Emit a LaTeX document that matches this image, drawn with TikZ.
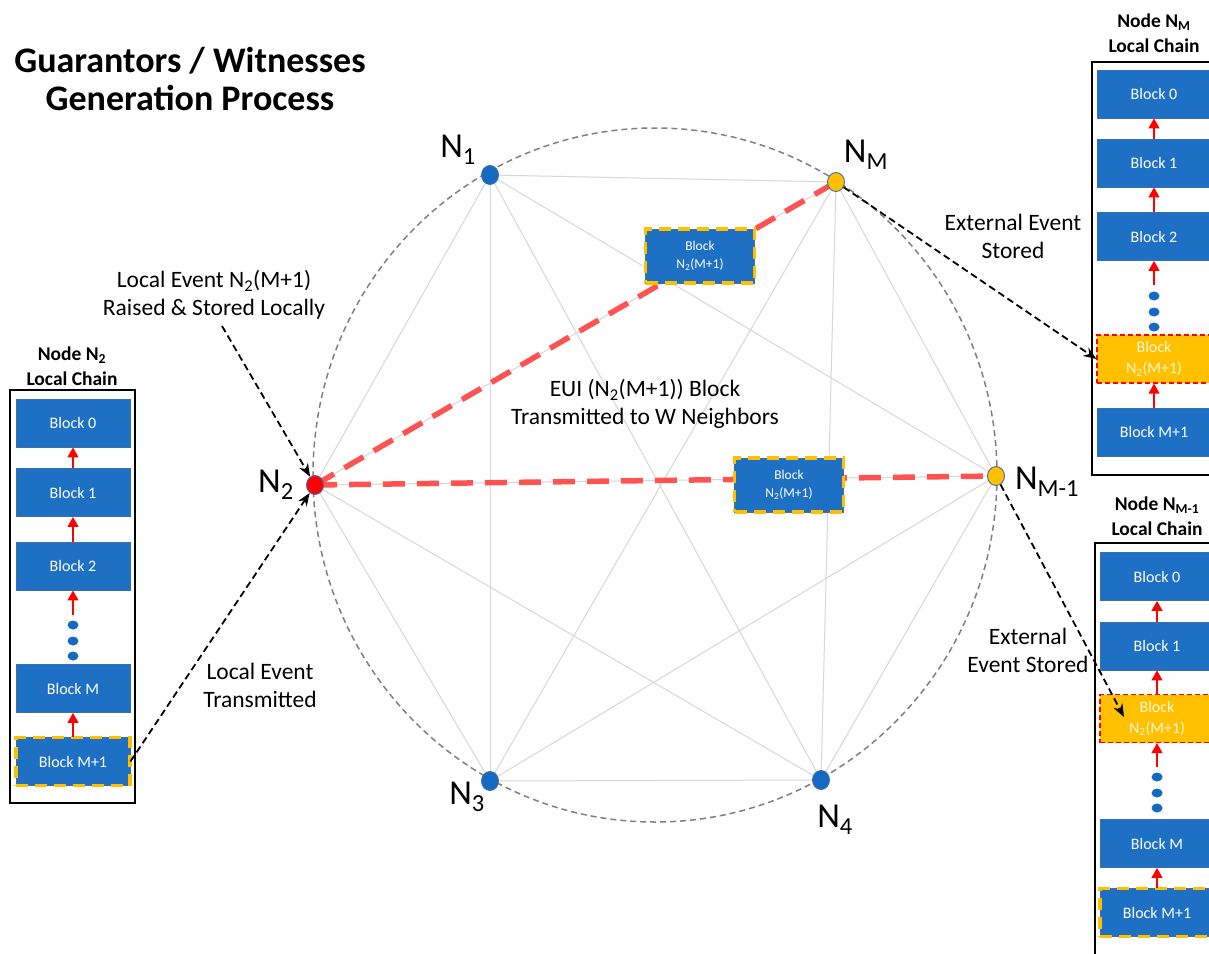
\documentclass[tikz,border=0pt]{standalone}
\usepackage{fontspec}
\setmainfont{Carlito}
\usetikzlibrary{arrows.meta,shapes.geometric}

\definecolor{blockblue}{RGB}{30,112,196}
\definecolor{blockedge}{RGB}{60,110,170}
\definecolor{gold}{RGB}{255,192,0}
\definecolor{redline}{RGB}{255,82,82}
\definecolor{ringgray}{RGB}{128,128,128}
\definecolor{edgegray}{RGB}{215,215,215}
\definecolor{dotblue}{RGB}{20,105,195}
\definecolor{palewhite}{RGB}{255,246,220}

\newcommand{\fsz}[2]{\fontsize{#1}{#2}\selectfont}

\pgfdeclarelayer{bg}
\pgfsetlayers{bg,main}

\tikzset{
  blk/.style={draw=blockedge, fill=blockblue, line width=0.8pt, minimum width=114pt,
    minimum height=48pt, inner sep=0pt, text=white, font=\fsz{16}{21}, align=center},
  newblk/.style={blk, postaction={draw=gold, line width=3.5pt, dash pattern=on 12pt off 7pt}},
  storedblk/.style={blk, fill=gold, draw=red, line width=1.2pt, dash pattern=on 5pt off 3pt, text=palewhite},
  smallblk/.style={newblk, minimum width=109pt, minimum height=54pt, font=\fsz{13.5}{18}},
  chainbox/.style={draw=black, line width=1.3pt, minimum width=124pt, minimum height=413pt, inner sep=0pt},
  chaindot/.style={ellipse, fill=dotblue, minimum width=11pt, minimum height=9pt, inner sep=0pt},
  netdot/.style={ellipse, draw=blockedge, fill=dotblue, line width=0.9pt, minimum width=17pt,
    minimum height=19pt, inner sep=0pt},
  redarr/.style={draw=red, line width=1.3pt, -{Triangle[width=11pt,length=10pt]}},
  blkarr/.style={draw=black, line width=1.8pt, dash pattern=on 7pt off 4pt, -{Stealth[length=13pt,width=10pt]}},
  gossip/.style={draw=redline, line width=5.5pt, dash pattern=on 22pt off 12pt},
  mesh/.style={draw=edgegray, line width=1pt},
  lbl/.style={font=\fsz{23.5}{28}, align=center, inner sep=0pt},
  nlbl/.style={font=\fsz{35}{38}, inner sep=0pt},
  chaintitle/.style={font=\bfseries\fsz{19.5}{25}, align=center, inner sep=0pt},
}

\begin{document}
\begin{tikzpicture}[x=1pt,y=-1pt]
\useasboundingbox (0,0) rectangle (1209,953);
\clip (0,0) rectangle (1209,953);

% title
\node[font=\bfseries\fsz{36}{37}, align=center, inner sep=0pt] (title) at (190,79)
  {Guarantors / Witnesses\\Generation Process};

% ---------------- network of nodes ----------------
\node[netdot] (n1) at (490,175) {};
\node[netdot, fill=gold] (nm) at (836,182) {};
\node[netdot, fill=red] (n2) at (315,485) {};
\node[netdot, fill=gold] (nm1) at (996,476) {};
\node[netdot] (n3) at (490,781) {};
\node[netdot] (n4) at (821,780) {};

\begin{pgfonlayer}{bg}
  \fill[white] (0,0) rectangle (1209,953);
  \draw[ringgray, line width=1.5pt, dash pattern=on 6pt off 4pt] (655,475) ellipse [x radius=342, y radius=347];
  \foreach \a/\b in {n1/nm, n1/n2, n1/nm1, n1/n3, n1/n4,
                     nm/n2, nm/nm1, nm/n3, nm/n4,
                     n2/nm1, n2/n3, n2/n4,
                     nm1/n3, nm1/n4, n3/n4}
    \draw[mesh] (\a.center) -- (\b.center);
  \draw[gossip] (n2.center) -- (nm.center);
  \draw[gossip] (n2.center) -- (nm1.center);
\end{pgfonlayer}

\node[nlbl] (ln1) at (458,150) {N\textsubscript{1}};
\node[nlbl] (lnm) at (866,155) {N\textsubscript{M}};
\node[nlbl] (ln2) at (276,485) {N\textsubscript{2}};
\node[nlbl] (lnm1) at (1047,482) {N\textsubscript{M-1}};
\node[nlbl] (ln3) at (467,797) {N\textsubscript{3}};
\node[nlbl] (ln4) at (835,820) {N\textsubscript{4}};

% blocks travelling to the neighbours
\node[smallblk] (tb1) at (700,256) {Block\\N\textsubscript{2}(M+1)};
\node[smallblk] (tb2) at (789,485) {Block\\N\textsubscript{2}(M+1)};

\node[lbl] (t3) at (645,404) {EUI (N\textsubscript{2}(M+1)) Block\\Transmitted to W Neighbors};

% ---------------- local chain of N2 ----------------
\node[chaintitle] (lct) at (72,366) {Node N\textsubscript{2}\\Local Chain};
\node[chainbox, minimum width=125pt] (lbox) at (72.5,596.5) {};
\node[blk] (l0) at (73,423) {Block 0};
\node[blk] (l1) at (73,492.5) {Block 1};
\node[blk] (l2) at (73,566) {Block 2};
\node[chaindot] (ld1) at (73,625) {};
\node[chaindot] (ld2) at (73,641) {};
\node[chaindot] (ld3) at (73,656) {};
\node[blk] (lm) at (73,688.5) {Block M};
\node[newblk] (lm1) at (73,761.5) {Block M+1};
\coordinate (la2) at (73,615);
\draw[redarr] (l1.north) -- (l0.south);
\draw[redarr] (l2.north) -- (l1.south);
\draw[redarr] (la2) -- (l2.south);
\draw[redarr] (lm1.north) -- (lm.south);

% ---------------- local chain of NM ----------------
\node[chaintitle] (rct) at (1154,33) {Node N\textsubscript{M}\\Local Chain};
\node[chainbox] (rbox) at (1154,268.5) {};
\node[blk] (r0) at (1154,94) {Block 0};
\node[blk] (r1) at (1154,163) {Block 1};
\node[blk] (r2) at (1154,236.5) {Block 2};
\node[chaindot] (rd1) at (1154,296) {};
\node[chaindot] (rd2) at (1154,312) {};
\node[chaindot] (rd3) at (1154,327) {};
\node[storedblk] (ry) at (1154,359) {Block\\N\textsubscript{2}(M+1)};
\node[blk] (rm1) at (1154,432) {Block M+1};
\coordinate (ra2) at (1154,285);
\draw[redarr] (r1.north) -- (r0.south);
\draw[redarr] (r2.north) -- (r1.south);
\draw[redarr] (ra2) -- (r2.south);
\draw[redarr] (rm1.north) -- (ry.south);

% ---------------- local chain of NM-1 ----------------
\node[chaintitle] (sct) at (1157,516) {Node N\textsubscript{M-1}\\Local Chain};
\node[chainbox] (sbox) at (1157,749.5) {};
\node[blk] (s0) at (1157,576.5) {Block 0};
\node[blk] (s1) at (1157,646) {Block 1};
\node[storedblk] (sy) at (1157,718.5) {Block\\N\textsubscript{2}(M+1)};
\node[chaindot] (sd1) at (1157,777) {};
\node[chaindot] (sd2) at (1157,793) {};
\node[chaindot] (sd3) at (1157,808) {};
\node[blk] (sm) at (1157,843.5) {Block M};
\node[newblk] (sm1) at (1157,912.5) {Block M+1};
\coordinate (sa2) at (1157,767);
\draw[redarr] (s1.north) -- (s0.south);
\draw[redarr] (sy.north) -- (s1.south);
\draw[redarr] (sa2) -- (sy.south);
\draw[redarr] (sm1.north) -- (sm.south);

% ---------------- event annotations ----------------
\node[lbl] (t1) at (214,295) {Local Event N\textsubscript{2}(M+1)\\Raised \& Stored Locally};
\node[lbl] (t2) at (260,685) {Local Event\\Transmitted};
\node[lbl] (t4) at (1013,236) {External Event\\Stored};
\node[lbl] (t5) at (1028,650) {External\\Event Stored};

\coordinate (a1) at (222,326);
\coordinate (syin) at (1124,717);
\draw[blkarr] (a1) -- (n2);
\draw[blkarr] (lm1.east) -- (n2);
\draw[blkarr] (nm) -- (ry.west);
\draw[blkarr] (nm1) -- (syin);
\end{tikzpicture}
\end{document}
